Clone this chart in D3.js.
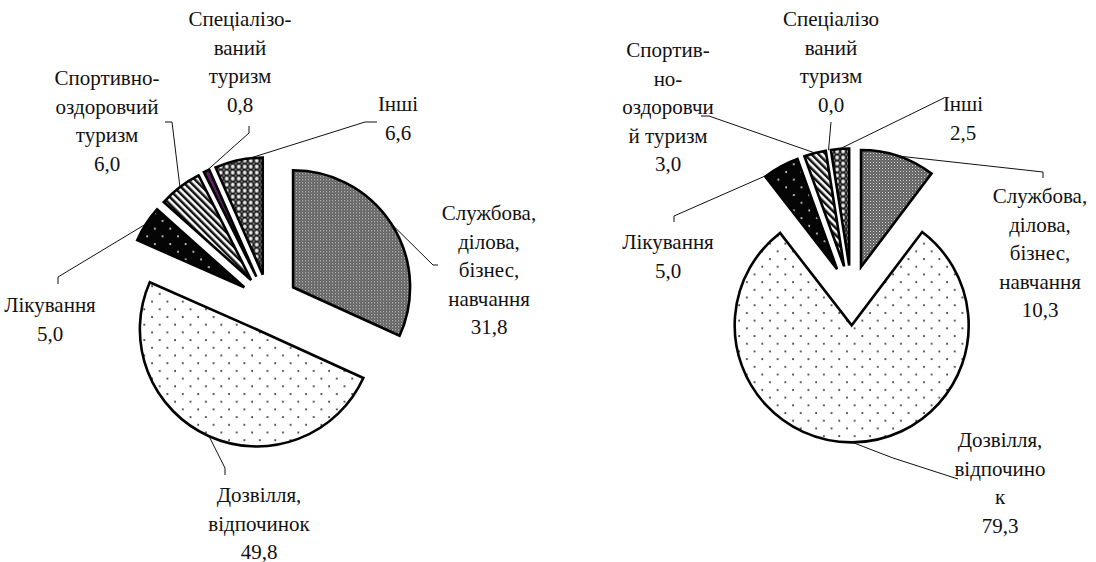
<!DOCTYPE html>
<html lang="uk">
<head>
<meta charset="utf-8">
<script src="https://cdn.jsdelivr.net/npm/d3@7/dist/d3.min.js"></script>
<style>
  html, body { margin: 0; padding: 0; background: #fff; }
  svg { display: block; }
</style>
</head>
<body>
<svg id="chart" width="1096" height="562"></svg>
<script>
// Structure of tourist trips by purpose, %
const categories = [
  "Службова, ділова, бізнес, навчання",
  "Дозвілля, відпочинок",
  "Лікування",
  "Спортивно-оздоровчий туризм",
  "Спеціалізований туризм",
  "Інші"
];
const valuesLeft  = [31.8, 49.8, 5.0, 6.0, 0.8, 6.6];
const valuesRight = [10.3, 79.3, 5.0, 3.0, 0.0, 2.5];

// Wrapped label text for each pie
const labelLinesLeft = [
  ["Службова,", "ділова,", "бізнес,", "навчання"],
  ["Дозвілля,", "відпочинок"],
  ["Лікування"],
  ["Спортивно-", "оздоровчий", "туризм"],
  ["Спеціалізо-", "ваний", "туризм"],
  ["Інші"]
];
const labelLinesRight = [
  ["Службова,", "ділова,", "бізнес,", "навчання"],
  ["Дозвілля,", "відпочино", "к"],
  ["Лікування"],
  ["Спортив-", "но-", "оздоровчи", "й туризм"],
  ["Спеціалізо", "ваний", "туризм"],
  ["Інші"]
];

// Fill pattern id per category
const patternIds = ["pGrid", "pDots", "pBlackDots", "pStripes", "pPurple", "pTrellis"];

const FONT = "'Liberation Serif', 'Times New Roman', serif";
const FONT_SIZE = 21;

const svg = d3.select("#chart");
const defs = svg.append("defs");

// --- fill patterns ---
function pattern(id, w, h, transform) {
  const p = defs.append("pattern").attr("id", id)
    .attr("patternUnits", "userSpaceOnUse").attr("width", w).attr("height", h);
  if (transform) p.attr("patternTransform", transform);
  return p;
}
// fine grey checker
let p = pattern("pGrid", 3, 3);
p.append("rect").attr("width", 3).attr("height", 3).attr("fill", "#5e5e5e");
p.append("rect").attr("width", 1).attr("height", 1).attr("fill", "#e0e0e0");
p.append("rect").attr("x", 1.5).attr("y", 1.5).attr("width", 1).attr("height", 1).attr("fill", "#a8a8a8");
// sparse dots on white
p = pattern("pDots", 15.4, 15.4);
p.append("rect").attr("width", 15.4).attr("height", 15.4).attr("fill", "#fff");
p.append("circle").attr("cx", 3).attr("cy", 3).attr("r", 1).attr("fill", "#333");
p.append("circle").attr("cx", 10.7).attr("cy", 10.7).attr("r", 1).attr("fill", "#333");
// white dots on black
p = pattern("pBlackDots", 15.4, 15.4);
p.append("rect").attr("width", 15.4).attr("height", 15.4).attr("fill", "#050505");
p.append("circle").attr("cx", 3).attr("cy", 3).attr("r", 1).attr("fill", "#ddd");
p.append("circle").attr("cx", 10.7).attr("cy", 10.7).attr("r", 1).attr("fill", "#ddd");
// diagonal stripes
p = pattern("pStripes", 5, 5, "rotate(-45)");
p.append("rect").attr("width", 5).attr("height", 5).attr("fill", "#fff");
p.append("rect").attr("width", 2.5).attr("height", 5).attr("fill", "#111");
// solid purple
p = pattern("pPurple", 4, 4);
p.append("rect").attr("width", 4).attr("height", 4).attr("fill", "#5e1f63");
// trellis / diamonds
p = pattern("pTrellis", 6, 6);
p.append("rect").attr("width", 6).attr("height", 6).attr("fill", "#1c1c1c");
[[0,0],[6,0],[0,6],[6,6]].forEach(([x, y]) =>
  p.append("circle").attr("cx", x).attr("cy", y).attr("r", 1.9).attr("fill", "#eeeeee"));
p.append("circle").attr("cx", 3).attr("cy", 3).attr("r", 0.9).attr("fill", "#9a9a9a");

// --- layout of both pies ---
const fmt = v => d3.format(".1f")(v).replace(".", ",");

const pies = [
  {
    values: valuesLeft, lines: labelLinesLeft,
    cx: 268.7, cy: 303, r: 117, explode: 29,
    labels: [
      { x: 489, y: 213, f: 0.5, path: [[433, 265], [438, 265]] },
      { x: 259, y: 495, f: 0.5, path: [[225, 468], [225, 475]] },
      { x: 50,  y: 305, f: 0.5, path: [[58, 277], [58, 284]] },
      { x: 107, y: 78,  f: 0.5, path: [[172, 122], [165, 122]] },
      { x: 240, y: 19,  f: 0.5, path: [[249, 133], [249, 126]] },
      { x: 398, y: 104, f: 0.72, path: [[365, 122], [377, 122]] }
    ]
  },
  {
    values: valuesRight, lines: labelLinesRight,
    cx: 851.5, cy: 295.4, r: 117, explode: 30,
    labels: [
      { x: 1040, y: 196, f: 0.5, path: [[1043, 172], [1043, 178]] },
      { x: 1000, y: 440, f: 0.5, path: [[893, 458], [958, 479]] },
      { x: 668,  y: 242, f: 0.08, path: [[674, 216], [674, 222]] },
      { x: 668,  y: 50,  f: 0.5, path: [[709, 116], [701, 116]] },
      { x: 831,  y: 19,  f: 0.5, path: [[831, 122]] },
      { x: 963,  y: 104, f: 0.5, path: [[944, 98]] }
    ]
  }
];

const lineHeight = 28.5;

pies.forEach(cfg => {
  const pie = d3.pie().sort(null).value(d => d)(cfg.values);
  const arc = d3.arc().innerRadius(0).outerRadius(cfg.r);
  const g = svg.append("g").attr("transform", `translate(${cfg.cx},${cfg.cy})`);

  pie.forEach((d, i) => {
    const mid = (d.startAngle + d.endAngle) / 2;
    const ox = Math.sin(mid) * cfg.explode, oy = -Math.cos(mid) * cfg.explode;

    // exploded slice (a zero share has no visible wedge)
    if (d.value > 0) {
      g.append("path")
        .attr("d", arc(d))
        .attr("transform", `translate(${ox},${oy})`)
        .attr("fill", `url(#${patternIds[i]})`)
        .attr("stroke", "#000")
        .attr("stroke-width", 2.6)
        .attr("stroke-linejoin", "miter");
    }

    // leader line from the slice rim to the label
    const lb = cfg.labels[i];
    const a = d.startAngle + (d.endAngle - d.startAngle) * lb.f;
    const sx = cfg.cx + ox + Math.sin(a) * cfg.r;
    const sy = cfg.cy + oy - Math.cos(a) * cfg.r;
    svg.append("path")
      .attr("d", d3.line()([[sx, sy], ...lb.path]))
      .attr("fill", "none")
      .attr("stroke", "#111")
      .attr("stroke-width", 1);

    // label: category lines followed by value, one text per line
    const rows = cfg.lines[i].concat([fmt(cfg.values[i])]);
    rows.forEach((row, k) => {
      svg.append("text")
        .attr("x", lb.x)
        .attr("y", lb.y + k * lineHeight + FONT_SIZE * 0.34)
        .attr("text-anchor", "middle")
        .attr("font-family", FONT)
        .attr("font-size", FONT_SIZE)
        .attr("fill", "#111")
        .text(row);
    });
  });
});
</script>
</body>
</html>
